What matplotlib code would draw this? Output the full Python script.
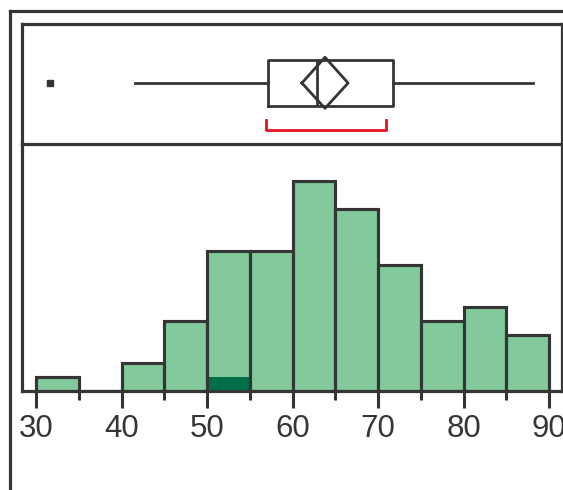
import numpy as np
import matplotlib.pyplot as plt
from matplotlib.lines import Line2D

plt.rcParams['font.family'] = ['Liberation Sans', 'DejaVu Sans']

# histogram data (bins of width 5)
bin_lefts = [30, 35, 40, 45, 50, 55, 60, 65, 70, 75, 80, 85]
counts = [1, 0, 2, 5, 10, 10, 15, 13, 9, 5, 6, 4]
selected = [0, 0, 0, 0, 1, 0, 0, 0, 0, 0, 0, 0]
tick_major = [30, 40, 50, 60, 70, 80, 90]
tick_minor = [35, 45, 55, 65, 75, 85]

# box plot summary
outliers = [31.6]
whisker_lo, q1, median, q3, whisker_hi = 41.6, 57.1, 62.9, 71.7, 88.1
mean, ci_lo, ci_hi = 63.8, 61.1, 66.5
short_lo, short_hi = 56.9, 70.9

W, H = 563, 490
dark = '#353535'
fill = '#82ca9c'
sel = '#006e46'

fig = plt.figure(figsize=(W / 100, H / 100), dpi=100)


def rect(l, t, r, b):
    return [l / W, 1 - b / H, (r - l) / W, (b - t) / H]


xlim = (28.36, 91.52)

# outer frame
fig.add_artist(Line2D([10 / W, 10 / W], [0, 1 - 11 / H], color=dark, lw=2.3,
                      transform=fig.transFigure))
fig.add_artist(Line2D([10 / W, 1], [1 - 11 / H, 1 - 11 / H], color=dark, lw=2.3,
                      transform=fig.transFigure))

# histogram panel
axh = fig.add_axes(rect(22, 144, 562, 391))
axh.patch.set_visible(False)
axh.bar(bin_lefts, counts, width=5, align='edge', color=fill, edgecolor=dark,
        linewidth=2.2)
axh.bar(bin_lefts, selected, width=5, align='edge', color=sel, linewidth=0)
axh.bar(bin_lefts, counts, width=5, align='edge', fill=False, edgecolor=dark,
        linewidth=2.2)
axh.set_xlim(*xlim)
axh.set_ylim(0, 17.64)
axh.set_yticks([])
axh.spines['top'].set_visible(False)
for s in ['left', 'right', 'bottom']:
    axh.spines[s].set_color(dark)
    axh.spines[s].set_linewidth(2.3)
axh.set_xticks(tick_major)
axh.set_xticklabels([str(t) for t in tick_major])
axh.set_xticks(tick_minor, minor=True)
axh.tick_params(axis='x', which='major', direction='out', length=12.5, width=2.2,
                color=dark, labelsize=22.5, labelcolor=dark, pad=4)
axh.tick_params(axis='x', which='minor', direction='out', length=6.5, width=2.2,
                color=dark)

# box plot panel
axb = fig.add_axes(rect(22, 24, 562, 144))
stats = [dict(whislo=whisker_lo, q1=q1, med=median, q3=q3, whishi=whisker_hi,
              fliers=outliers)]
axb.bxp(stats, positions=[0.508], widths=0.39, orientation='horizontal',
        showcaps=False, patch_artist=False,
        boxprops=dict(color=dark, lw=2),
        whiskerprops=dict(color=dark, lw=2),
        medianprops=dict(color=dark, lw=2),
        flierprops=dict(marker='s', markersize=5, markerfacecolor=dark,
                        markeredgecolor=dark))
# mean diamond
axb.plot([ci_lo, mean, ci_hi, mean, ci_lo], [0.508, 0.7225, 0.508, 0.2975, 0.508],
         color=dark, lw=2)
# shortest half bracket
axb.plot([short_lo, short_lo, short_hi, short_hi], [0.2, 0.117, 0.117, 0.2],
         color='#e8141c', lw=2)
axb.set_xlim(*xlim)
axb.set_ylim(0, 1)
axb.set_xticks([])
axb.set_yticks([])
for s in axb.spines.values():
    s.set_color(dark)
    s.set_linewidth(2.3)

fig.savefig('out.png', dpi=100)
